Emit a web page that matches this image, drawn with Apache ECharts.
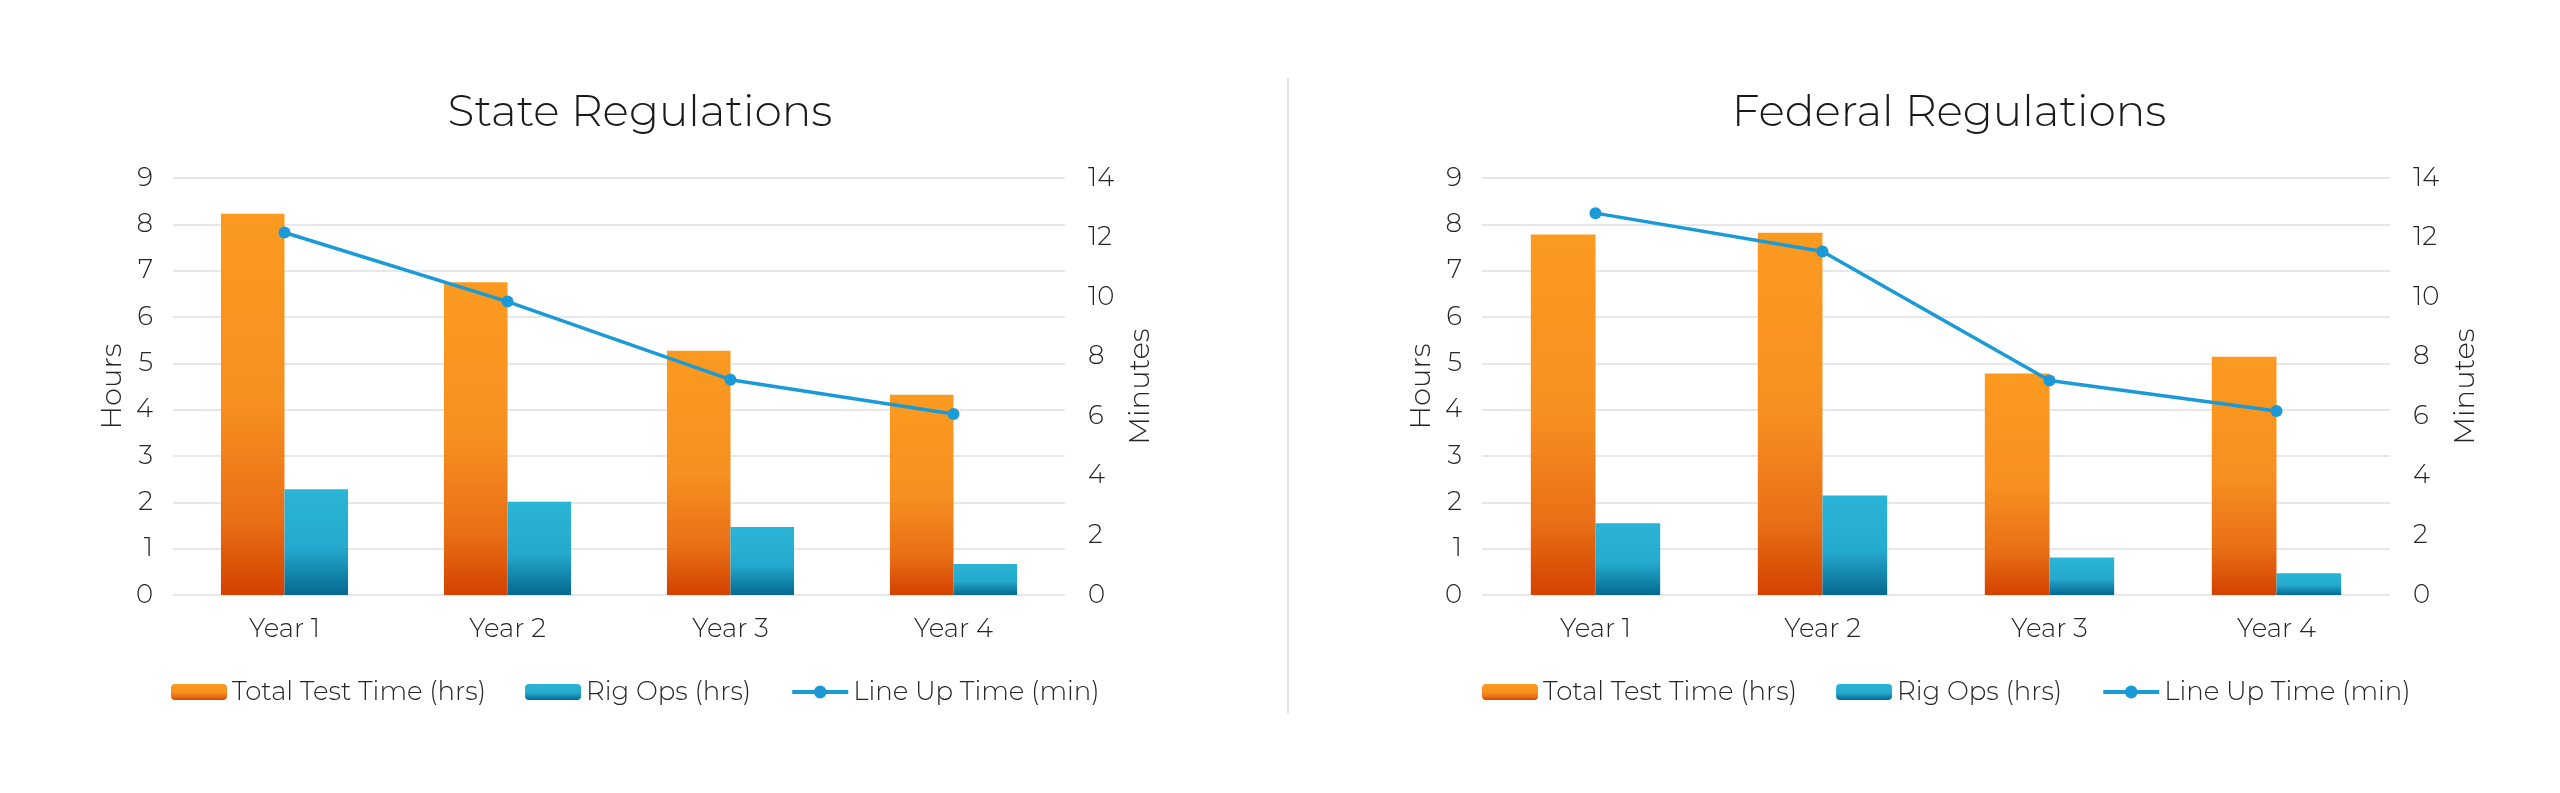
<!DOCTYPE html>
<html>
<head>
<meta charset="utf-8">
<title>State / Federal Regulations</title>
<script src="https://cdn.jsdelivr.net/npm/echarts@6/dist/echarts.min.js"></script>
<style>
    html, body { margin: 0; padding: 0; background: #fff; }
    #main { width: 2560px; height: 793px; }
</style>
</head>
<body>
<div id="main"></div>
<script>
// 数据
var categories = ['Year 1', 'Year 2', 'Year 3', 'Year 4'];
var hourTicks = [0, 9, 1];     // min, max, interval
var minuteTicks = [0, 14, 2];

var stateTotal = [8.23, 6.75, 5.27, 4.32];
var stateRig = [2.28, 2.01, 1.47, 0.67];
var stateLineUp = [12.17, 9.85, 7.23, 6.08];

var fedTotal = [7.78, 7.82, 4.78, 5.14];
var fedRig = [1.55, 2.15, 0.81, 0.47];
var fedLineUp = [12.82, 11.53, 7.2, 6.18];

var FONT = 'Montserrat, "Open Sans", sans-serif';
var TXT = '#262626';

var orange = new echarts.graphic.LinearGradient(0, 0, 0, 1, [
    {offset: 0, color: '#fb9a1f'},
    {offset: 0.5, color: '#f69020'},
    {offset: 0.8, color: '#e96f16'},
    {offset: 1, color: '#d34200'}
]);
var blue = new echarts.graphic.LinearGradient(0, 0, 0, 1, [
    {offset: 0, color: '#2ab4d6'},
    {offset: 0.55, color: '#25aacf'},
    {offset: 1, color: '#05688f'}
]);
var lineColor = '#1a9ad6';

var chart = echarts.init(document.getElementById('main'));

// 两个子图的位置
var panels = [
    {title: 'State Regulations', titleX: 640, gridLeft: 173, gridW: 892, legendLeft: 171,
        total: stateTotal, rig: stateRig, lineUp: stateLineUp},
    {title: 'Federal Regulations', titleX: 1949, gridLeft: 1482, gridW: 908, legendLeft: 1482,
        total: fedTotal, rig: fedRig, lineUp: fedLineUp}
];

var option = {
    backgroundColor: '#fff',
    textStyle: {fontFamily: FONT},
    title: [],
    legend: [],
    grid: [],
    xAxis: [],
    yAxis: [],
    series: [],
    graphic: [{
        type: 'line',
        shape: {x1: 1288, y1: 78, x2: 1288, y2: 713},
        style: {stroke: '#e3e3e3', lineWidth: 2}
    }]
};

panels.forEach(function(p, i){
    option.title.push({
        text: p.title,
        left: p.titleX,
        textAlign: 'center',
        top: 91,
        padding: 0,
        textStyle: {fontSize: 44, fontWeight: 300, color: '#1a1a1a', fontFamily: FONT}
    });
    option.legend.push({
        left: p.legendLeft,
        top: 679,
        padding: 0,
        itemWidth: 56,
        itemHeight: 16,
        itemGap: 39,
        lineStyle: {width: 4},
        textStyle: {fontSize: 26, fontWeight: 300, color: TXT, fontFamily: FONT},
        data: ['Total Test Time (hrs)', 'Rig Ops (hrs)', 'Line Up Time (min)']
    });
    option.grid.push({left: p.gridLeft, width: p.gridW, top: 178, height: 417});
    option.xAxis.push({
        type: 'category',
        gridIndex: i,
        data: categories,
        axisLine: {show: false},
        axisTick: {show: false},
        axisLabel: {fontSize: 26, fontWeight: 300, color: TXT, margin: 21, fontFamily: FONT}
    });
    option.yAxis.push({
        type: 'value',
        gridIndex: i,
        min: hourTicks[0], max: hourTicks[1], interval: hourTicks[2],
        name: 'Hours',
        nameLocation: 'middle',
        nameGap: 46,
        nameTextStyle: {fontSize: 29, fontWeight: 300, color: TXT, fontFamily: FONT},
        axisLine: {show: false},
        axisTick: {show: false},
        axisLabel: {fontSize: 26, fontWeight: 300, color: TXT, margin: 20, fontFamily: FONT},
        splitLine: {lineStyle: {color: '#e8e8e8', width: 2}}
    });
    option.yAxis.push({
        type: 'value',
        gridIndex: i,
        position: 'right',
        min: minuteTicks[0], max: minuteTicks[1], interval: minuteTicks[2],
        name: 'Minutes',
        nameLocation: 'middle',
        nameGap: 61,
        nameTextStyle: {fontSize: 29, fontWeight: 300, color: TXT, fontFamily: FONT},
        axisLine: {show: false},
        axisTick: {show: false},
        axisLabel: {fontSize: 26, fontWeight: 300, color: TXT, margin: 23, fontFamily: FONT},
        splitLine: {show: false}
    });
    option.series.push({
        name: 'Total Test Time (hrs)',
        type: 'bar',
        xAxisIndex: i, yAxisIndex: i * 2,
        barGap: 0,
        barCategoryGap: '43%',
        itemStyle: {color: orange},
        data: p.total
    });
    option.series.push({
        name: 'Rig Ops (hrs)',
        type: 'bar',
        xAxisIndex: i, yAxisIndex: i * 2,
        barGap: 0,
        barCategoryGap: '43%',
        itemStyle: {color: blue},
        data: p.rig
    });
    option.series.push({
        name: 'Line Up Time (min)',
        type: 'line',
        xAxisIndex: i, yAxisIndex: i * 2 + 1,
        symbol: 'circle',
        symbolSize: 12,
        lineStyle: {color: lineColor, width: 3.5},
        itemStyle: {color: lineColor},
        z: 5,
        data: p.lineUp
    });
});

chart.setOption(option);
</script>
</body>
</html>
